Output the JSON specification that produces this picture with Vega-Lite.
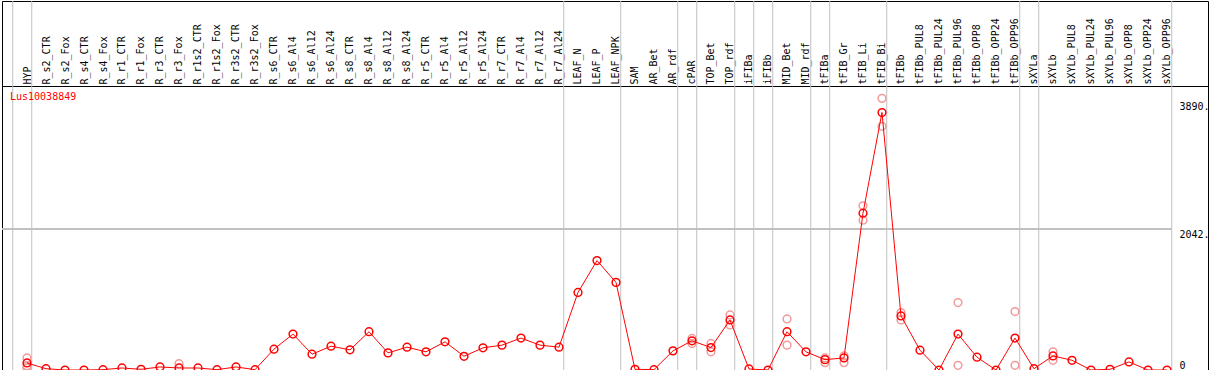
{
  "$schema": "https://vega.github.io/schema/vega-lite/v6.json",
  "width": 1206,
  "height": 369,
  "padding": {"left": 1, "top": 0, "right": 0, "bottom": 0},
  "autosize": {"type": "pad"},
  "background": "white",
  "config": {"view": {"stroke": "black", "strokeWidth": 1}, "axis": {"labelOverlap": false, "labelSeparation": 0}},
  "title": {"text": "Lus10038849", "anchor": "start", "orient": "top", "offset": -111, "dx": 8, "color": "#ff0000", "font": "DejaVu Sans Mono", "fontSize": 10, "fontWeight": "normal", "baseline": "bottom", "frame": "group"},
  "datasets": {
    "means": [
      {"i": 0, "sample": "HYP", "mean": 102},
      {"i": 1, "sample": "R_s2_CTR", "mean": 19},
      {"i": 2, "sample": "R_s2_Fox", "mean": 0},
      {"i": 3, "sample": "R_s4_CTR", "mean": 0},
      {"i": 4, "sample": "R_s4_Fox", "mean": 5},
      {"i": 5, "sample": "R_r1_CTR", "mean": 29},
      {"i": 6, "sample": "R_r1_Fox", "mean": 10},
      {"i": 7, "sample": "R_r3_CTR", "mean": 44},
      {"i": 8, "sample": "R_r3_Fox", "mean": 29},
      {"i": 9, "sample": "R_r1s2_CTR", "mean": 29},
      {"i": 10, "sample": "R_r1s2_Fox", "mean": 5},
      {"i": 11, "sample": "R_r3s2_CTR", "mean": 44},
      {"i": 12, "sample": "R_r3s2_Fox", "mean": 5},
      {"i": 13, "sample": "R_s6_CTR", "mean": 302},
      {"i": 14, "sample": "R_s6_Al4", "mean": 520},
      {"i": 15, "sample": "R_s6_Al12", "mean": 229},
      {"i": 16, "sample": "R_s6_Al24", "mean": 345},
      {"i": 17, "sample": "R_s8_CTR", "mean": 292},
      {"i": 18, "sample": "R_s8_Al4", "mean": 554},
      {"i": 19, "sample": "R_s8_Al12", "mean": 248},
      {"i": 20, "sample": "R_s8_Al24", "mean": 331},
      {"i": 21, "sample": "R_r5_CTR", "mean": 263},
      {"i": 22, "sample": "R_r5_Al4", "mean": 408},
      {"i": 23, "sample": "R_r5_Al12", "mean": 199},
      {"i": 24, "sample": "R_r5_Al24", "mean": 321},
      {"i": 25, "sample": "R_r7_CTR", "mean": 360},
      {"i": 26, "sample": "R_r7_Al4", "mean": 462},
      {"i": 27, "sample": "R_r7_Al12", "mean": 360},
      {"i": 28, "sample": "R_r7_Al24", "mean": 331},
      {"i": 29, "sample": "LEAF_N", "mean": 1123},
      {"i": 30, "sample": "LEAF_P", "mean": 1585},
      {"i": 31, "sample": "LEAF_NPK", "mean": 1269},
      {"i": 32, "sample": "SAM", "mean": 10},
      {"i": 33, "sample": "AR_Bet", "mean": 5},
      {"i": 34, "sample": "AR_rdf", "mean": 277},
      {"i": 35, "sample": "cPAR", "mean": 423},
      {"i": 36, "sample": "TOP_Bet", "mean": 325},
      {"i": 37, "sample": "TOP_rdf", "mean": 725},
      {"i": 38, "sample": "iFIBa", "mean": 15},
      {"i": 39, "sample": "iFIBb", "mean": 0},
      {"i": 40, "sample": "MID_Bet", "mean": 554},
      {"i": 41, "sample": "MID_rdf", "mean": 263},
      {"i": 42, "sample": "tFIBa", "mean": 150},
      {"i": 43, "sample": "tFIB_Gr", "mean": 175},
      {"i": 44, "sample": "tFIB_Li", "mean": 2271},
      {"i": 45, "sample": "tFIB_Bi", "mean": 3729},
      {"i": 46, "sample": "tFIBb", "mean": 783},
      {"i": 47, "sample": "tFIBb_PUL8", "mean": 287},
      {"i": 48, "sample": "tFIBb_PUL24", "mean": 0},
      {"i": 49, "sample": "tFIBb_PUL96", "mean": 520},
      {"i": 50, "sample": "tFIBb_OPP8", "mean": 185},
      {"i": 51, "sample": "tFIBb_OPP24", "mean": 0},
      {"i": 52, "sample": "tFIBb_OPP96", "mean": 462},
      {"i": 53, "sample": "sXYLa", "mean": 19},
      {"i": 54, "sample": "sXYLb", "mean": 204},
      {"i": 55, "sample": "sXYLb_PUL8", "mean": 141},
      {"i": 56, "sample": "sXYLb_PUL24", "mean": 0},
      {"i": 57, "sample": "sXYLb_PUL96", "mean": 10},
      {"i": 58, "sample": "sXYLb_OPP8", "mean": 117},
      {"i": 59, "sample": "sXYLb_OPP24", "mean": 0},
      {"i": 60, "sample": "sXYLb_OPP96", "mean": 0}
    ],
    "reps": [
      {"i": 0, "rep": 175}, {"i": 0, "rep": 29}, {"i": 0, "rep": 60},
      {"i": 8, "rep": 92},
      {"i": 35, "rep": 457}, {"i": 35, "rep": 384},
      {"i": 36, "rep": 384}, {"i": 36, "rep": 263},
      {"i": 37, "rep": 798}, {"i": 37, "rep": 652},
      {"i": 40, "rep": 739}, {"i": 40, "rep": 360},
      {"i": 42, "rep": 175}, {"i": 42, "rep": 107},
      {"i": 43, "rep": 204}, {"i": 43, "rep": 107},
      {"i": 44, "rep": 2378}, {"i": 44, "rep": 2169},
      {"i": 45, "rep": 3934}, {"i": 45, "rep": 3530},
      {"i": 46, "rep": 831}, {"i": 46, "rep": 725},
      {"i": 49, "rep": 977}, {"i": 49, "rep": 68},
      {"i": 52, "rep": 846}, {"i": 52, "rep": 68},
      {"i": 54, "rep": 263}, {"i": 54, "rep": 141}
    ],
    "bounds": [
      {"b": -0.75}, {"b": 0.25}, {"b": 28.25}, {"b": 31.25}, {"b": 34.25},
      {"b": 35.25}, {"b": 37.25}, {"b": 38.25}, {"b": 39.25}, {"b": 41.25},
      {"b": 42.25}, {"b": 45.25}, {"b": 52.25}, {"b": 53.25}, {"b": 60.25}
    ]
  },
  "resolve": {"scale": {"x": "shared", "y": "shared"}},
  "layer": [
    {
      "data": {"name": "bounds"},
      "mark": {"type": "rule", "color": "#c0c0c0", "strokeWidth": 1},
      "encoding": {
        "x": {"field": "b", "type": "quantitative",
          "scale": {"domain": [-1.3158, 62.158], "nice": false, "zero": false},
          "axis": {
            "orient": "top", "offset": -85, "title": null,
            "values": [0,1,2,3,4,5,6,7,8,9,10,11,12,13,14,15,16,17,18,19,20,21,22,23,24,25,26,27,28,29,30,31,32,33,34,35,36,37,38,39,40,41,42,43,44,45,46,47,48,49,50,51,52,53,54,55,56,57,58,59,60],
            "tickCount": 63, "tickMinStep": 1,
            "labelExpr": "datum.value >= 0 && datum.value <= 60 ? ['HYP','R_s2_CTR','R_s2_Fox','R_s4_CTR','R_s4_Fox','R_r1_CTR','R_r1_Fox','R_r3_CTR','R_r3_Fox','R_r1s2_CTR','R_r1s2_Fox','R_r3s2_CTR','R_r3s2_Fox','R_s6_CTR','R_s6_Al4','R_s6_Al12','R_s6_Al24','R_s8_CTR','R_s8_Al4','R_s8_Al12','R_s8_Al24','R_r5_CTR','R_r5_Al4','R_r5_Al12','R_r5_Al24','R_r7_CTR','R_r7_Al4','R_r7_Al12','R_r7_Al24','LEAF_N','LEAF_P','LEAF_NPK','SAM','AR_Bet','AR_rdf','cPAR','TOP_Bet','TOP_rdf','iFIBa','iFIBb','MID_Bet','MID_rdf','tFIBa','tFIB_Gr','tFIB_Li','tFIB_Bi','tFIBb','tFIBb_PUL8','tFIBb_PUL24','tFIBb_PUL96','tFIBb_OPP8','tFIBb_OPP24','tFIBb_OPP96','sXYLa','sXYLb','sXYLb_PUL8','sXYLb_PUL24','sXYLb_PUL96','sXYLb_OPP8','sXYLb_OPP24','sXYLb_OPP96'][datum.value] : ''",
            "labelAngle": -90, "labelAlign": "left", "labelBaseline": "middle",
            "labelFont": "DejaVu Sans Mono", "labelFontSize": 10, "labelColor": "black",
            "labelPadding": 2, "labelOverlap": false, "labelSeparation": 0, "labelBound": false, "labelFlush": false,
            "ticks": false, "grid": false, "domain": true, "domainColor": "black", "domainWidth": 1
          }}
      }
    },
    {
      "data": {"name": "means"},
      "mark": {"type": "rule", "color": "#c0c0c0", "strokeWidth": 1},
      "encoding": {
        "x": {"datum": -1.3158, "type": "quantitative"},
        "x2": {"datum": 60.25},
        "y": {"datum": 2042, "type": "quantitative",
          "scale": {"domain": [0, 5344], "nice": false, "zero": true},
          "axis": {
            "orient": "right", "offset": -29, "title": null,
            "values": [0, 2042, 3890],
            "labelExpr": "datum.value == 0 ? '0' : datum.value + '.'",
            "labelAlign": "left",
            "labelBaseline": {"condition": {"test": "datum.value == 0", "value": "bottom"}, "value": "top"},
            "labelFont": "DejaVu Sans Mono", "labelFontSize": 10, "labelColor": "black",
            "labelPadding": 0, "labelOverlap": false, "labelBound": false, "labelFlush": false,
            "ticks": false, "grid": false, "domain": false
          }}
      }
    },
    {
      "data": {"name": "reps"},
      "mark": {"type": "point", "shape": "circle", "filled": false, "color": "#f29a9a", "strokeWidth": 1.5, "size": 60, "opacity": 1, "clip": true},
      "encoding": {
        "x": {"field": "i", "type": "quantitative"},
        "y": {"field": "rep", "type": "quantitative"}
      }
    },
    {
      "data": {"name": "means"},
      "mark": {"type": "line", "color": "#ff0000", "strokeWidth": 1, "clip": true},
      "encoding": {
        "x": {"field": "i", "type": "quantitative"},
        "y": {"field": "mean", "type": "quantitative"}
      }
    },
    {
      "data": {"name": "means"},
      "mark": {"type": "point", "shape": "circle", "filled": false, "color": "#ff0000", "strokeWidth": 1.5, "size": 60, "opacity": 1, "clip": true},
      "encoding": {
        "x": {"field": "i", "type": "quantitative"},
        "y": {"field": "mean", "type": "quantitative"}
      }
    }
  ]
}
